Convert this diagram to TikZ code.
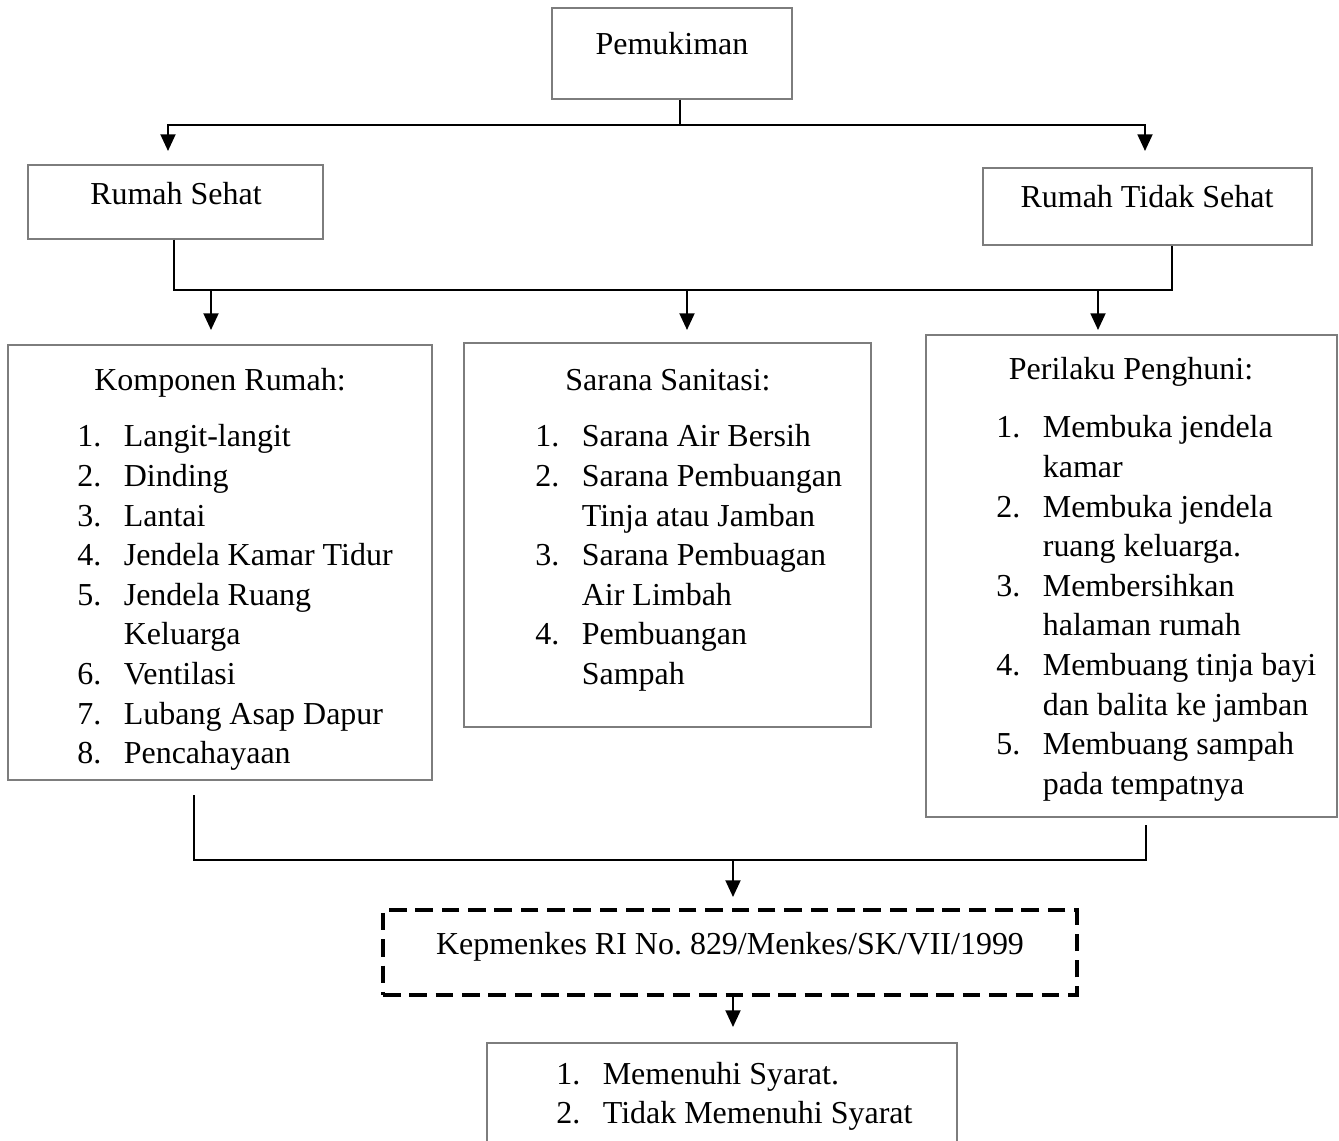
\documentclass[tikz,border=0pt]{standalone}
\usepackage{fontspec}
\setmainfont{Liberation Serif}
\usetikzlibrary{arrows.meta,positioning}

\definecolor{boxgray}{RGB}{125,125,125}

\tikzset{
    box/.style={draw=boxgray, line width=0.6pt, inner sep=0pt},
    wh/.style 2 args={minimum width=#1*0.02cm, minimum height=#2*0.02cm},
    txt/.style={inner sep=0pt, anchor=base, font=\fontsize{18.2}{22}\selectfont},
    item/.style={txt, anchor=base west},
    conn/.style={line width=1.2pt},
    arr/.style={conn, -{Triangle[length=9.5pt,width=8.5pt]}},
    dashbox/.style={draw, line width=1.9pt, dash pattern=on 10pt off 5pt, inner sep=0pt}
}

\begin{document}
\begin{tikzpicture}[x=0.02cm,y=-0.02cm]
    \useasboundingbox (0,0) rectangle (1339,1141);

    % boxes
    \node[box, wh={240}{91}] (pemu) at (672,53.5) {};
    \node[box, wh={295}{74}] (rs) at (175.5,202) {};
    \node[box, wh={329}{77}] (rts) at (1147.5,206.5) {};
    \node[box, wh={424}{435}] (kom) at (220,562.5) {};
    \node[box, wh={407}{384}] (san) at (667.5,535) {};
    \node[box, wh={411}{482}] (per) at (1131.5,576) {};
    \node[dashbox, wh={694}{85}] (kep) at (730,952.5) {};
    \node[box, wh={470}{120}] (hasil) at (722,1103) {};

    % titles
    \node[txt] (pemuT) at (672,55) {Pemukiman};
    \node[txt] (rsT) at (176,205) {Rumah Sehat};
    \node[txt] (rtsT) at (1147,208) {Rumah Tidak Sehat};
    \node[txt] (komT) at (220,391) {Komponen Rumah:};
    \node[txt] (sanT) at (668,391) {Sarana Sanitasi:};
    \node[txt] (perT) at (1131,380) {Perilaku Penghuni:};
    \node[txt] (kepT) at (730,954) {Kepmenkes RI No.\ 829/Menkes/SK/VII/1999};

    % lists
    \foreach \n/\t [count=\i] in {1./Langit-langit, 2./Dinding, 3./Lantai,
        4./Jendela Kamar Tidur, 5./Jendela Ruang, /Keluarga, 6./Ventilasi,
        7./Lubang Asap Dapur, 8./Pencahayaan}
        \node[item] (kom\i) at (77,{447+39.6*(\i-1)}) {\makebox[0.93cm][l]{\n}\t};
    \foreach \n/\t [count=\i] in {1./Sarana Air Bersih, 2./Sarana Pembuangan,
        /Tinja atau Jamban, 3./Sarana Pembuagan, /Air Limbah, 4./Pembuangan, /Sampah}
        \node[item] (san\i) at (535,{447+39.6*(\i-1)}) {\makebox[0.93cm][l]{\n}\t};
    \foreach \n/\t [count=\i] in {1./Membuka jendela, /kamar, 2./Membuka jendela,
        /ruang keluarga., 3./Membersihkan, /halaman rumah, 4./Membuang tinja bayi,
        /dan balita ke jamban, 5./Membuang sampah, /pada tempatnya}
        \node[item] (per\i) at (996,{438+39.6*(\i-1)}) {\makebox[0.93cm][l]{\n}\t};
    \foreach \n/\t [count=\i] in {1./Memenuhi Syarat., 2./Tidak Memenuhi Syarat}
        \node[item] (hasil\i) at (556,{1084+39*(\i-1)}) {\makebox[0.93cm][l]{\n}\t};

    % connectors
    \coordinate (j0) at (680,125);
    \coordinate (a1) at (168,151);
    \coordinate (a2) at (1145,151);
    \draw[conn] (j0 |- pemu.south) -- (j0);
    \draw[arr] (j0) -| (a1);
    \draw[arr] (j0) -| (a2);

    \coordinate (m1) at (174,290);
    \coordinate (m2) at (1172,290);
    \draw[conn] (m1 |- rs.south) -- (m1) -- (m2) -- (m2 |- rts.south);
    \coordinate (b1) at (211,330);
    \coordinate (b2) at (687,330);
    \coordinate (b3) at (1098,330);
    \foreach \b in {b1,b2,b3}
        \draw[arr] (\b |- m1) -- (\b);

    \coordinate (k1) at (194,795);
    \coordinate (p1) at (1146,825);
    \coordinate (n2) at (1146,860);
    \draw[conn] (k1) -- (k1 |- n2) -- (n2) -- (p1);
    \coordinate (c1) at (733,897);
    \coordinate (c2) at (733,1027);
    \draw[arr] (c1 |- n2) -- (c1);
    \draw[arr] (c1 |- kep.south) -- (c2);
\end{tikzpicture}
\end{document}
